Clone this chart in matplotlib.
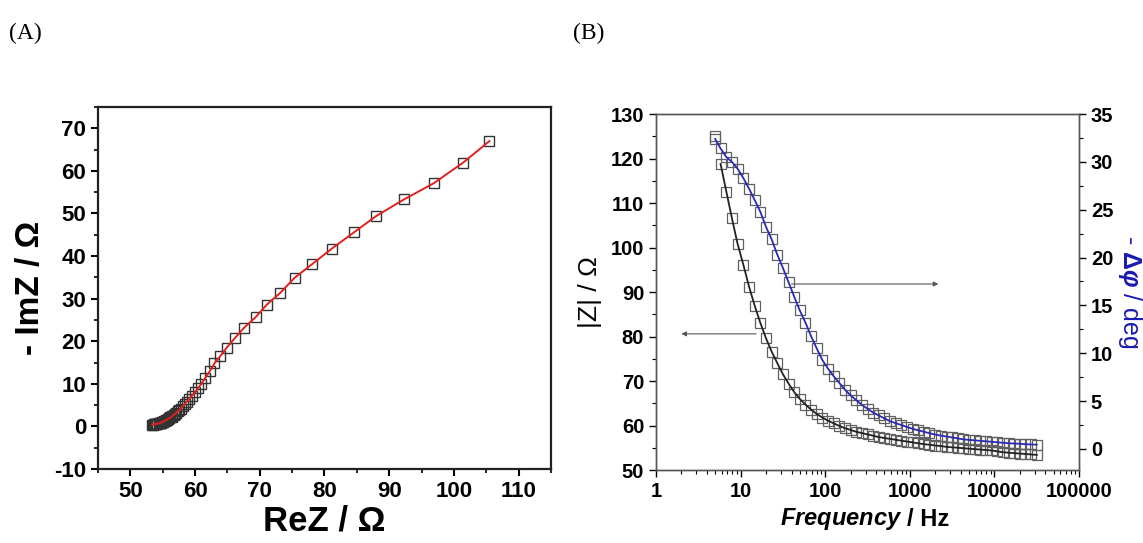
import numpy as np
import matplotlib
matplotlib.use("Agg")
import matplotlib.pyplot as plt
from matplotlib.ticker import MultipleLocator, LogLocator, NullFormatter, FixedLocator, FixedFormatter

plt.rcParams['font.family'] = ['Liberation Sans', 'DejaVu Sans']
plt.rcParams['axes.unicode_minus'] = False
plt.rcParams['mathtext.fontset'] = 'custom'
plt.rcParams['mathtext.rm'] = 'Liberation Sans'
plt.rcParams['mathtext.it'] = 'Liberation Sans:italic'
plt.rcParams['mathtext.bf'] = 'Liberation Sans:bold'
plt.rcParams['mathtext.bfit'] = 'Liberation Sans:bold:italic'

# Bode data
freq = [5.0, 5.8, 6.8, 7.9, 9.2, 10.8, 12.6, 14.7, 17.1, 20.0, 23.3, 27.2, 31.7, 37.0,
        43.1, 50.0, 58.5, 68.0, 79.5, 92.5, 108, 126, 147, 171, 200, 233, 272, 317,
        370, 431, 500, 585, 680, 795, 925, 1080, 1260, 1470, 1710, 2000, 2330, 2720,
        3170, 3700, 4310, 5000, 5850, 6800, 7950, 9250, 10800, 12600, 14700, 17100,
        20000, 23300, 27200, 31700]
z_mod = [125.0, 118.8, 112.5, 106.6, 100.9, 96.1, 91.2, 86.9, 83.1, 79.6, 76.6, 74.0,
         71.5, 69.4, 67.5, 66.0, 64.7, 63.6, 62.6, 61.8, 61.1, 60.5, 59.9, 59.4, 59.0,
         58.6, 58.3, 58.0, 57.7, 57.4, 57.2, 57.0, 56.8, 56.6, 56.4, 56.2, 56.0, 55.8,
         55.7, 55.5, 55.4, 55.2, 55.1, 55.0, 54.9, 54.8, 54.7, 54.6, 54.5, 54.4, 54.2,
         54.0, 53.9, 53.8, 53.7, 53.6, 53.5, 53.4]
phase = [32.4, 31.4, 30.5, 30.0, 29.3, 28.3, 27.2, 26.0, 24.8, 23.2, 21.9, 20.3, 18.9,
         17.4, 15.9, 14.5, 13.2, 11.8, 10.5, 9.3, 8.4, 7.6, 6.9, 6.2, 5.6, 5.1, 4.6,
         4.2, 3.8, 3.5, 3.2, 2.9, 2.7, 2.5, 2.3, 2.1, 1.95, 1.8, 1.65, 1.5, 1.4, 1.3,
         1.2, 1.1, 1.0, 0.95, 0.9, 0.85, 0.8, 0.75, 0.7, 0.65, 0.6, 0.57, 0.54, 0.5,
         0.47, 0.45]

# Nyquist data
re_z = [105.5, 101.4, 96.9, 92.3, 88.0, 84.6, 81.1, 78.1, 75.4, 73.2, 71.1, 69.4, 67.6,
        66.2, 64.9, 63.9, 63.0, 62.3, 61.6, 61.0, 60.4, 60.0, 59.5, 59.1, 58.7, 58.4,
        58.1, 57.8, 57.6, 57.3, 57.1, 56.9, 56.7, 56.5, 56.4, 56.2, 56.0, 55.8, 55.7,
        55.5, 55.4, 55.2, 55.1, 55.0, 54.9, 54.8, 54.7, 54.6, 54.5, 54.4, 54.2, 54.0,
        53.9, 53.8, 53.7, 53.6, 53.5, 53.4]
im_z = [67.0, 61.9, 57.1, 53.3, 49.4, 45.6, 41.7, 38.1, 34.9, 31.4, 28.6, 25.7, 23.2,
        20.8, 18.5, 16.5, 14.8, 13.0, 11.4, 10.0, 8.9, 8.0, 7.2, 6.4, 5.8, 5.2, 4.7,
        4.2, 3.8, 3.5, 3.2, 2.9, 2.7, 2.5, 2.3, 2.1, 1.9, 1.75, 1.6, 1.45, 1.35, 1.25,
        1.15, 1.05, 0.96, 0.91, 0.86, 0.81, 0.76, 0.71, 0.66, 0.61, 0.56, 0.54, 0.51,
        0.47, 0.44, 0.42]

fig = plt.figure(figsize=(11.43, 5.43), dpi=100)

# ---------------- panel A : Nyquist
ax1 = fig.add_axes([0.0857, 0.1363, 0.3963, 0.6667])
ax1.plot(re_z, im_z, ls='none', marker='s', ms=7.7, mfc='none', mec='#333333', mew=1.0)
ax1.plot(re_z, im_z, color='#e0201e', lw=1.4)
ax1.set_xlim(45, 115)
ax1.set_ylim(-10, 75)
ax1.xaxis.set_major_locator(FixedLocator([50, 60, 70, 80, 90, 100, 110]))
ax1.xaxis.set_minor_locator(MultipleLocator(5))
ax1.yaxis.set_major_locator(FixedLocator([-10, 0, 10, 20, 30, 40, 50, 60, 70]))
ax1.yaxis.set_minor_locator(MultipleLocator(5))
ax1.tick_params(which='major', direction='out', length=5, width=1.5, labelsize=16)
ax1.tick_params(which='minor', direction='out', length=3, width=1.2)
for lab in ax1.get_xticklabels() + ax1.get_yticklabels():
    lab.set_fontweight('bold')
for s in ax1.spines.values():
    s.set_linewidth(1.6)
    s.set_color('#222222')
ax1.set_xlabel('ReZ / Ω', fontsize=25, fontweight='bold', labelpad=2)
ax1.set_ylabel('- ImZ / Ω', fontsize=24, fontweight='bold', labelpad=6)

# ---------------- panel B : Bode
ax2 = fig.add_axes([0.5739, 0.1344, 0.3701, 0.6556])
ax2.set_xscale('log')
ax3 = ax2.twinx()

ax2.plot(freq, z_mod, ls='none', marker='s', ms=7, mfc='none', mec='#606060', mew=0.9)
ax2.plot(freq[1:], z_mod[1:], color='#222222', lw=1.3)
ax3.plot(freq, phase, ls='none', marker='s', ms=7, mfc='none', mec='#606060', mew=0.9)
ax3.plot(freq, phase, color='#2a2ab8', lw=1.3)

ax2.set_xlim(1, 100000)
ax2.set_ylim(50, 130)
ax3.set_ylim(-2.2, 35)
ax2.yaxis.set_major_locator(MultipleLocator(10))
ax2.yaxis.set_minor_locator(MultipleLocator(5))
ax3.yaxis.set_major_locator(MultipleLocator(5))
ax3.yaxis.set_minor_locator(MultipleLocator(2.5))
ax2.xaxis.set_major_locator(FixedLocator([1, 10, 100, 1000, 10000, 100000]))
ax2.xaxis.set_major_formatter(FixedFormatter(['1', '10', '100', '1000', '10000', '100000']))
ax2.xaxis.set_minor_locator(LogLocator(base=10, subs=np.arange(2, 10), numticks=20))
ax2.xaxis.set_minor_formatter(NullFormatter())

for a in (ax2, ax3):
    a.tick_params(which='major', direction='out', length=5, width=1.0, labelsize=14.5)
    a.tick_params(which='minor', direction='out', length=3, width=0.8)
    for s in a.spines.values():
        s.set_linewidth(1.0)
        s.set_color('#555555')
for lab in ax2.get_xticklabels() + ax2.get_yticklabels() + ax3.get_yticklabels():
    lab.set_fontweight('bold')

ax2.set_ylabel('|Z| / Ω', fontsize=19, labelpad=6)
ax2.text(0.582, -0.138, r'$\mathbfit{Frequency}$', transform=ax2.transAxes,
         fontsize=17, ha='right', va='center')
ax2.text(0.594, -0.138, '/ Hz', transform=ax2.transAxes, fontsize=17,
         fontweight='bold', ha='left', va='center')
ax3.set_ylabel(r'- $\mathbf{\Delta}\mathbfit{\varphi}$ / deg', fontsize=18,
               color='#1a1ab0', rotation=270, labelpad=22)

# arrows pointing to the axes
ax2.annotate('', xy=(1.85, 80.6), xytext=(16.5, 80.6),
             arrowprops=dict(arrowstyle='-|>', color='#555555', lw=0.8, mutation_scale=7))
ax2.annotate('', xy=(2350, 91.8), xytext=(37, 91.8),
             arrowprops=dict(arrowstyle='-|>', color='#555555', lw=0.8, mutation_scale=7))

fig.text(0.008, 0.939, '(A)', fontsize=17, family='Liberation Serif', va='center')
fig.text(0.501, 0.939, '(B)', fontsize=17, family='Liberation Serif', va='center')

fig.savefig('out.png', dpi=100)
